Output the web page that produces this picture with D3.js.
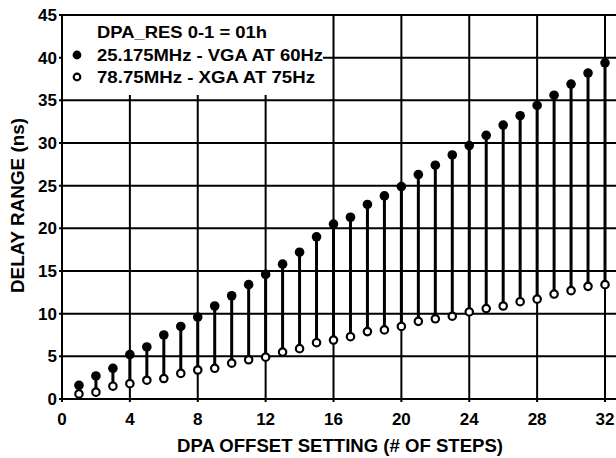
<!DOCTYPE html>
<html><head><meta charset="utf-8">
<script src="https://cdn.jsdelivr.net/npm/d3@7/dist/d3.min.js"></script>
<style>html,body{margin:0;padding:0;background:#fff;}svg{display:block;}</style>
</head><body>
<svg id="c" width="616" height="458"></svg>
<script>
const steps = d3.range(1, 33);
const vga60 = [1.6,2.7,3.6,5.2,6.1,7.5,8.5,9.6,10.9,12.1,13.4,14.6,15.8,17.2,19.0,20.5,21.3,22.8,23.8,24.9,26.3,27.4,28.6,29.7,30.9,32.1,33.2,34.4,35.6,36.9,38.2,39.4];
const xga75 = [0.6,0.8,1.5,1.8,2.2,2.4,3.0,3.4,3.6,4.2,4.6,4.9,5.5,5.9,6.6,6.9,7.3,7.9,8.1,8.5,9.1,9.4,9.7,10.2,10.6,10.9,11.4,11.7,12.3,12.7,13.2,13.4];
const xTicks = [0,4,8,12,16,20,24,28,32];
const yTicks = [0,5,10,15,20,25,30,35,40,45];
const legendLines = ["DPA_RES 0-1 = 01h","25.175MHz - VGA AT 60Hz","78.75MHz - XGA AT 75Hz"];
const xTitle = "DPA OFFSET SETTING (# OF STEPS)";
const yTitle = "DELAY RANGE (ns)";

const svg = d3.select("#c");
const font = "'Liberation Sans', Arial, Helvetica, sans-serif";
const L = 62, R = 616, T = 15, B = 399;
const x = d3.scaleLinear().domain([0, 32]).range([L, 605]);
const y = d3.scaleLinear().domain([0, 45]).range([B, T]);

// gridlines
const g = svg.append("g");
g.selectAll(".hg").data(yTicks.filter(d => d > 0 && d < 45)).join("line")
  .attr("x1", L - 3).attr("x2", R).attr("y1", d => y(d)).attr("y2", d => y(d))
  .attr("stroke", "#000").attr("stroke-width", 2);
g.selectAll(".vg").data(xTicks.filter(d => d > 0)).join("line")
  .attr("x1", d => x(d)).attr("x2", d => x(d)).attr("y1", T).attr("y2", B + 3)
  .attr("stroke", "#000").attr("stroke-width", 2);

// legend background
svg.append("rect").attr("x", L).attr("y", T).attr("width", 323 - L).attr("height", 95 - T).attr("fill", "#fff");

// frame
svg.append("line").attr("x1", L - 3).attr("x2", R).attr("y1", T).attr("y2", T).attr("stroke", "#000").attr("stroke-width", 2);
svg.append("line").attr("x1", L - 3).attr("x2", R).attr("y1", B).attr("y2", B).attr("stroke", "#000").attr("stroke-width", 2);
svg.append("line").attr("x1", L).attr("x2", L).attr("y1", T - 1).attr("y2", B + 3).attr("stroke", "#000").attr("stroke-width", 2);

// tick labels
svg.selectAll(".yl").data(yTicks).join("text")
  .attr("x", 57).attr("y", d => y(d) + 6).attr("text-anchor", "end")
  .attr("font-family", font).attr("font-weight", "bold").attr("font-size", 17).text(d => d);
svg.selectAll(".xl").data(xTicks).join("text")
  .attr("x", d => x(d)).attr("y", 425).attr("text-anchor", "middle")
  .attr("font-family", font).attr("font-weight", "bold").attr("font-size", 17).text(d => d);

// titles
svg.append("text").attr("x", 177).attr("y", 452)
  .attr("textLength", 326).attr("lengthAdjust", "spacingAndGlyphs")
  .attr("font-family", font).attr("font-weight", "bold").attr("font-size", 17.5).text(xTitle);
svg.append("text").attr("transform", "translate(24,293) rotate(-90)")
  .attr("textLength", 175).attr("lengthAdjust", "spacingAndGlyphs")
  .attr("font-family", font).attr("font-weight", "bold").attr("font-size", 17.5).text(yTitle);

// stems
const data = steps.map((s, i) => ({s, hi: vga60[i], lo: xga75[i]}));
svg.selectAll(".stem").data(data).join("line")
  .attr("x1", d => x(d.s)).attr("x2", d => x(d.s))
  .attr("y1", d => y(d.lo)).attr("y2", d => y(d.hi))
  .attr("stroke", "#000").attr("stroke-width", 3);
svg.selectAll(".hi").data(data).join("circle")
  .attr("cx", d => x(d.s)).attr("cy", d => y(d.hi)).attr("r", 4.8).attr("fill", "#000");
svg.selectAll(".lo").data(data).join("circle")
  .attr("cx", d => x(d.s)).attr("cy", d => y(d.lo)).attr("r", 3.7)
  .attr("fill", "#fff").attr("stroke", "#000").attr("stroke-width", 2.2);

// legend
const legendWidths = [170, 226, 218];
const lg = svg.append("g").attr("font-family", font).attr("font-weight", "bold").attr("font-size", 16.5);
lg.selectAll("text").data(legendLines).join("text")
  .attr("x", 97).attr("y", (d, i) => 38 + i * 22.5)
  .attr("textLength", (d, i) => legendWidths[i]).attr("lengthAdjust", "spacingAndGlyphs")
  .text(d => d);
lg.append("circle").attr("cx", 77).attr("cy", 55).attr("r", 4.4).attr("fill", "#000");
lg.append("circle").attr("cx", 77).attr("cy", 77).attr("r", 3.3).attr("fill", "#fff").attr("stroke", "#000").attr("stroke-width", 2.2);
</script>
</body></html>
